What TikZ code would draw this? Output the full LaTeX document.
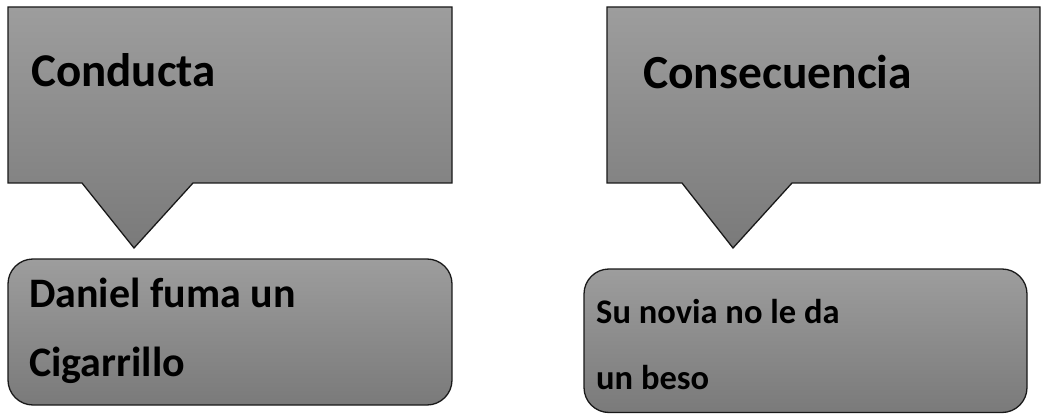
\documentclass[tikz,border=0pt]{standalone}
\usepackage{fontspec}
\setmainfont{Carlito}
\definecolor{gtop}{RGB}{157,157,157}
\definecolor{gbot}{RGB}{122,122,122}
\definecolor{edge}{RGB}{25,25,25}
\tikzset{
  shapebox/.style={draw=edge, line width=1.3pt, line join=miter, top color=gtop, bottom color=gbot},
  txt/.style={inner sep=0pt, anchor=base west, text=black, font=\bfseries},
}
\begin{document}
\begin{tikzpicture}[x=1pt,y=-1pt]
\useasboundingbox (0,0) rectangle (1041,414);
% left callout
\path[shapebox] (8,7) -- (452,7) -- (452,183) -- (193,183) -- (134,248) -- (82,183) -- (8,183) -- cycle;
% right callout
\path[shapebox] (607,7) -- (1040,7) -- (1040,183) -- (792,183) -- (733,248) -- (682,183) -- (607,183) -- cycle;
% rounded boxes
\path[shapebox, rounded corners=25pt] (8,259) rectangle (452,405);
\path[shapebox, rounded corners=25pt] (584,269) rectangle (1027,412.5);
% texts
\node[txt, font=\bfseries\fontsize{47}{50}\selectfont] (conducta) at (31,87) {Conducta};
\node[txt, font=\bfseries\fontsize{47.5}{50}\selectfont] (consec) at (643,89) {Consecuencia};
\node[txt, font=\bfseries\fontsize{42}{44}\selectfont] (daniel1) at (29,307) {Daniel fuma un};
\node[txt, font=\bfseries\fontsize{42}{44}\selectfont] (daniel2) at (29,376) {Cigarrillo};
\node[txt, font=\bfseries\fontsize{34.5}{38}\selectfont] (novia1) at (596,323) {Su novia no le da};
\node[txt, font=\bfseries\fontsize{34.5}{38}\selectfont] (novia2) at (596,389) {un beso};
\end{tikzpicture}
\end{document}
